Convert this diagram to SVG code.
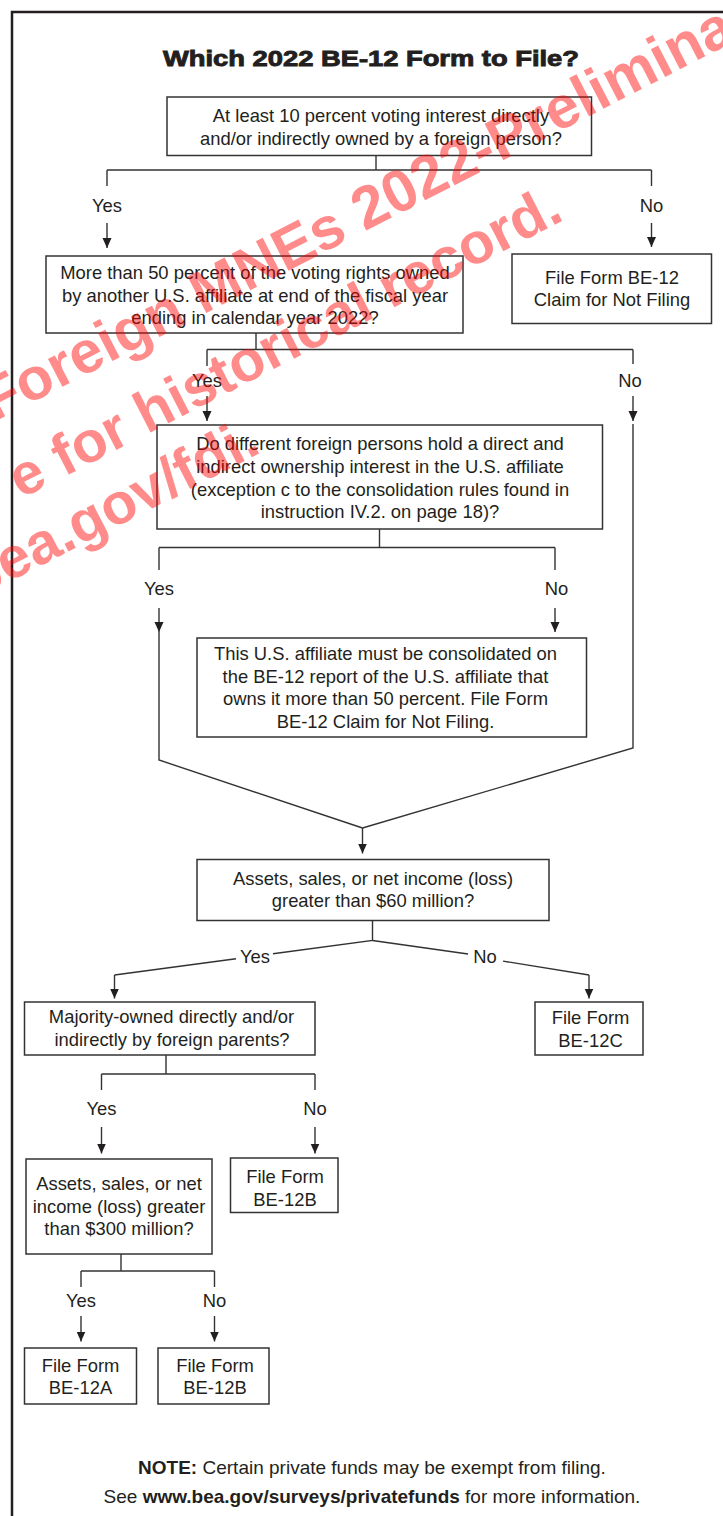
<svg xmlns="http://www.w3.org/2000/svg" width="723" height="1516" viewBox="0 0 723 1516">
<style>
.bx{fill:#fff;stroke:#333;stroke-width:1.5}
.t{font-family:"Liberation Sans",Arial,Helvetica,sans-serif;font-size:18.4px;fill:#231f20;text-anchor:middle}
.c{fill:none;stroke:#333;stroke-width:1.4}
.wm{font-family:"Liberation Sans",Arial,Helvetica,sans-serif;font-weight:bold;font-size:58px;fill:#ff0000;opacity:0.45}
</style>
<defs>
<marker id="ah" markerUnits="userSpaceOnUse" markerWidth="10" markerHeight="12" refX="10" refY="4.5" orient="auto">
<path d="M0,0 L10,4.5 L0,9 z" fill="#231f20"/>
</marker>
</defs>
<rect width="723" height="1516" fill="#fff"/>
<path d="M12 1516 V12 H723" fill="none" stroke="#231f20" stroke-width="2.5"/>
<text x="163" y="65.5" textLength="416" lengthAdjust="spacingAndGlyphs" style="font-family:'Liberation Sans',Arial,sans-serif;font-weight:bold;font-size:22px;fill:#231f20;stroke:#231f20;stroke-width:0.9">Which 2022 BE-12 Form to File?</text>

<g id="connectors">
<path class="c" d="M376 155.5 V170 M107 170 H651.5 M107 170 V186 M651.5 170 V186"/>
<path class="c" d="M107 223 V248" marker-end="url(#ah)"/>
<path class="c" d="M651.5 223 V247" marker-end="url(#ah)"/>
<path class="c" d="M256 333 V349.5 M207 349.5 H633 M207 349.5 V366 M633 349.5 V364"/>
<path class="c" d="M207 396 V421" marker-end="url(#ah)"/>
<path class="c" d="M633 396 V421" marker-end="url(#ah)"/>
<path class="c" d="M633 424 V748 L362.5 828"/>
<path class="c" d="M379.5 529 V547.5 M159 547.5 H555 M159 547.5 V570 M555 547.5 V570"/>
<path class="c" d="M159 608 V632" marker-end="url(#ah)"/>
<path class="c" d="M555 608 V632" marker-end="url(#ah)"/>
<path class="c" d="M159 632 V760 L362.5 828"/>
<path class="c" d="M362.5 828 V853.5" marker-end="url(#ah)"/>
<path class="c" d="M372.5 921 V940.5 L273 953.8 M236 958.8 L114.5 975"/>
<path class="c" d="M114.5 975 V998.5" marker-end="url(#ah)"/>
<path class="c" d="M372.5 940.5 L468 954 M503 961.1 L589 975"/>
<path class="c" d="M589 975 V998.5" marker-end="url(#ah)"/>
<path class="c" d="M166 1055 V1074 M101.5 1074 H315 M101.5 1074 V1090 M315 1074 V1090"/>
<path class="c" d="M101.5 1127 V1153.5" marker-end="url(#ah)"/>
<path class="c" d="M315 1127 V1153.5" marker-end="url(#ah)"/>
<path class="c" d="M121 1254 V1271 M81 1271 H214.5 M81 1271 V1287 M214.5 1271 V1287"/>
<path class="c" d="M81 1316 V1341.5" marker-end="url(#ah)"/>
<path class="c" d="M214.5 1316 V1341.5" marker-end="url(#ah)"/>
<text class="t" x="107" y="211.5">Yes</text>
<text class="t" x="651.5" y="211.5">No</text>
<text class="t" x="207" y="387">Yes</text>
<text class="t" x="630" y="387">No</text>
<text class="t" x="159" y="595">Yes</text>
<text class="t" x="556.5" y="595">No</text>
<text class="t" x="255" y="963">Yes</text>
<text class="t" x="485" y="963">No</text>
<text class="t" x="101.5" y="1115">Yes</text>
<text class="t" x="315" y="1115">No</text>
<text class="t" x="81" y="1306.5">Yes</text>
<text class="t" x="214.5" y="1306.5">No</text>
</g>

<g id="n1"><rect class="bx" x="167" y="97" width="424.5" height="58.5"/>
<text class="t" x="381" y="121.5">At least 10 percent voting interest directly</text>
<text class="t" x="381" y="144.5">and/or indirectly owned by a foreign person?</text></g>

<g id="n2"><rect class="bx" x="46" y="256" width="417" height="77"/>
<text class="t" x="255" y="278.5">More than 50 percent of the voting rights owned</text>
<text class="t" x="255" y="301.5">by another U.S. affiliate at end of the fiscal year</text>
<text class="t" x="255" y="323.5">ending in calendar year 2022?</text></g>

<g id="n3"><rect class="bx" x="512" y="254" width="199.5" height="69.5"/>
<text class="t" x="612" y="283.5">File Form BE-12</text>
<text class="t" x="612" y="306">Claim for Not Filing</text></g>

<g id="n4"><rect class="bx" x="157" y="425" width="445.5" height="104"/>
<text class="t" x="380" y="450">Do different foreign persons hold a direct and</text>
<text class="t" x="380" y="472.7">indirect ownership interest in the U.S. affiliate</text>
<text class="t" x="380" y="495.5">(exception c to the consolidation rules found in</text>
<text class="t" x="380" y="518.3">instruction IV.2. on page 18)?</text></g>

<g id="n5"><rect class="bx" x="197" y="638" width="389.5" height="99"/>
<text class="t" x="385.5" y="660">This U.S. affiliate must be consolidated on</text>
<text class="t" x="385.5" y="682.7">the BE-12 report of the U.S. affiliate that</text>
<text class="t" x="385.5" y="705">owns it more than 50 percent. File Form</text>
<text class="t" x="385.5" y="727.7">BE-12 Claim for Not Filing.</text></g>

<g id="n6"><rect class="bx" x="197" y="859.5" width="352" height="61"/>
<text class="t" x="373" y="885">Assets, sales, or net income (loss)</text>
<text class="t" x="373" y="907.3">greater than $60 million?</text></g>

<g id="n7"><rect class="bx" x="24.5" y="1002" width="290.5" height="53"/>
<text class="t" x="171.5" y="1023.3">Majority-owned directly and/or</text>
<text class="t" x="172" y="1046">indirectly by foreign parents?</text></g>

<g id="n8"><rect class="bx" x="535" y="1002" width="108" height="53"/>
<text class="t" x="590.5" y="1024.3">File Form</text>
<text class="t" x="590.5" y="1046.7">BE-12C</text></g>

<g id="n9"><rect class="bx" x="26" y="1159" width="186" height="95"/>
<text class="t" x="119" y="1190">Assets, sales, or net</text>
<text class="t" x="119" y="1212.7">income (loss) greater</text>
<text class="t" x="119" y="1235">than $300 million?</text></g>

<g id="n10"><rect class="bx" x="230.5" y="1158" width="107.5" height="54.5"/>
<text class="t" x="285" y="1183.3">File Form</text>
<text class="t" x="285" y="1205.7">BE-12B</text></g>

<g id="n11"><rect class="bx" x="24.5" y="1348" width="112" height="56"/>
<text class="t" x="80.5" y="1371.7">File Form</text>
<text class="t" x="80.5" y="1394">BE-12A</text></g>

<g id="n12"><rect class="bx" x="158" y="1348" width="111" height="56"/>
<text class="t" x="215" y="1371.7">File Form</text>
<text class="t" x="215" y="1394">BE-12B</text></g>

<g id="note">
<text class="t" x="372" y="1473.5" style="font-size:19px"><tspan font-weight="bold">NOTE:</tspan> Certain private funds may be exempt from filing.</text>
<text class="t" x="372" y="1503" style="font-size:19px">See <tspan font-weight="bold">www.bea.gov/surveys/privatefunds</tspan> for more information.</text>
</g>

<g id="watermark">
<text class="wm" transform="translate(-6,422) rotate(-27.2)" style="font-size:59.5px">Foreign MNEs 2022-Preliminary</text>
<text class="wm" transform="translate(21,499) rotate(-27.2)">e for historical record.</text>
<text class="wm" transform="translate(-24,599) rotate(-27.2)">bea.gov/fdi.</text>
</g>
</svg>
